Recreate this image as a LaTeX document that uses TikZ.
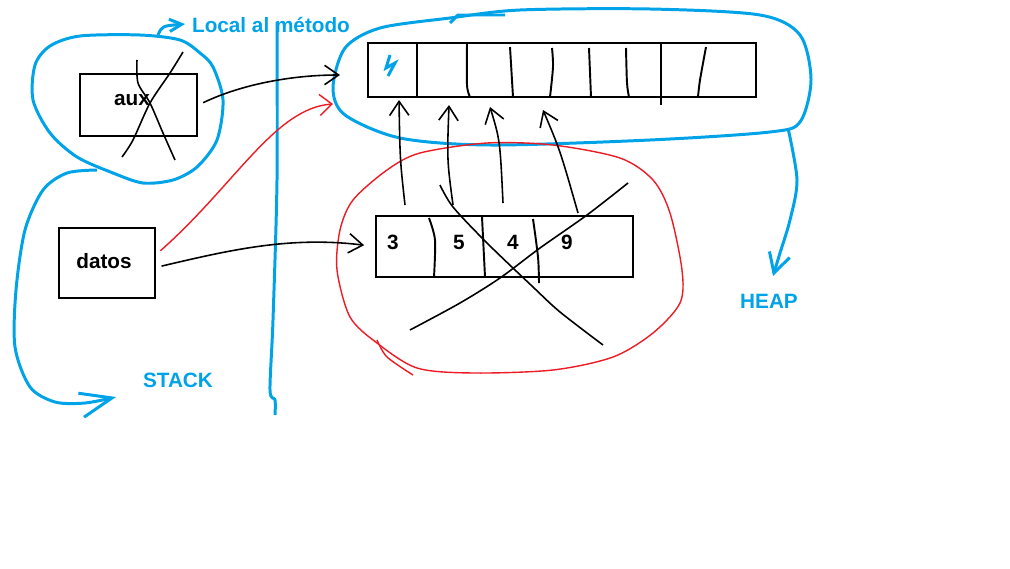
\documentclass[tikz,border=0pt]{standalone}
\usepackage{fontspec}
\setmainfont{Liberation Sans}
\usetikzlibrary{arrows.meta}
\definecolor{paintblue}{RGB}{0,162,232}
\definecolor{paintred}{RGB}{237,28,36}

\begin{document}
\begin{tikzpicture}[x=0.02cm,y=-0.02cm,
				>={Straight Barb[length=8pt,width=11pt]},
				every node/.style={font=\fontsize{11.8}{14}\selectfont\bfseries},
				box/.style={draw,line width=1.6pt,inner sep=0pt},
				ink/.style={line width=0.9pt},
				wall/.style={line width=1.1pt},
				ring/.style={paintblue,line width=1.7pt},
				redink/.style={paintred,line width=0.8pt},
				lbl/.style={text=paintblue,anchor=base}]
\path[ use as bounding box ] (0,0) rectangle (1010,568);

  % blue regions
  \draw[ring] plot[smooth cycle] coordinates {(200,53) (213,67) (223,100) (217,140)
	(197,167) (173,180) (143,183) (113,173) (77,157) (50,133) (33,100) (35,65)
	(50,46) (80,36) (140,35) (180,40)};
  \draw[ring] plot[smooth cycle] coordinates {(333,88) (345,48) (380,28) (450,18)
	(520,10) (650,9) (760,15) (800,35) (811,80) (800,122) (770,132) (650,140)
	(490,145) (400,138) (345,115)};
  \draw[ring] (450,23) -- (458,15) -- (505,15);
  \draw[ring] plot[smooth] coordinates {(277,22) (277,180) (273,320) (270,390)
	(275,400) (275,415)};
  \draw[ring,-{Straight Barb[length=18pt,width=14pt]}] plot[smooth] coordinates
	{(97,170) (67,173) (43,190) (25,230) (16,290) (15,347) (30,387) (55,402)
	(85,403) (116,397)};
  \draw[ring,-{Straight Barb[length=11pt,width=12pt]}] plot[smooth] coordinates
	{(788,128) (797,180) (790,220) (780,253) (773,276)};
  \draw[ring,-{Straight Barb[length=7pt,width=7pt]}] (158,35) .. controls (162,26) .. (185,24);

  % red region
  \draw[redink] plot[smooth cycle] coordinates {(487,143) (553,145) (620,158)
	(653,180) (670,213) (682,270) (680,303) (653,333) (613,357) (553,370)
	(473,373) (417,368) (377,343) (350,317) (337,270) (340,230) (353,200)
	(387,170) (420,153)};
  \draw[redink] plot[smooth] coordinates {(377,340) (387,357) (413,375)};

  % labels
  \node[lbl] (local) at (271,32) {Local al método};
  \node[lbl] (stack) at (178,387) {STACK};
  \node[lbl] (heaplbl) at (769,308) {HEAP};

  % stack boxes
  \node[box,minimum width=2.34cm,minimum height=1.24cm] (aux) at (138.5,105) {};
  \node[anchor=base] (auxtxt) at (132,105) {aux};
  \node[box,minimum width=1.92cm,minimum height=1.4cm] (datos) at (107,263) {};
  \node[anchor=base] (datostxt) at (104,268) {datos};

  % heap array
  \node[box,minimum width=7.76cm,minimum height=1.08cm] (heap) at (562,70) {};
  \draw[wall] (417,43) -- (417,97);
  \draw[wall] plot[smooth] coordinates {(467,43) (467,85) (470,97)};
  \draw[wall] plot[smooth] coordinates {(510,47) (513,97)};
  \draw[wall] plot[smooth] coordinates {(552,48) (553,67) (550,97)};
  \draw[wall] plot[smooth] coordinates {(589,48) (591,97)};
  \draw[wall] plot[smooth] coordinates {(626,48) (627,83) (629,97)};
  \draw[wall] (661,43) -- (661,105);
  \draw[wall] plot[smooth] coordinates {(706,47) (700,80) (698,97)};
  \draw[paintblue,line width=1.7pt] (390,55) -- (386,68) -- (395,63) -- (388,76);

  % old array
  \node[box,minimum width=5.14cm,minimum height=1.22cm] (arr) at (504.5,246.5) {};
  \draw[wall] plot[smooth] coordinates {(429,218) (435,240) (434,277)};
  \draw[wall] plot[smooth] coordinates {(482,217) (485,277)};
  \draw[wall] plot[smooth] coordinates {(533,219) (538,257) (539,283)};
  \node[anchor=base] (n3) at (393,249) {3};
  \node[anchor=base] (n5) at (459,249) {5};
  \node[anchor=base] (n4) at (513,249) {4};
  \node[anchor=base] (n9) at (567,249) {9};

  % crossed out
  \draw[ink] plot[smooth] coordinates {(137,60) (138,83) (150,103) (163,133) (175,160)};
  \draw[ink] plot[smooth] coordinates {(183,52) (170,73) (150,103) (133,140) (122,157)};
  \draw[ink] plot[smooth] coordinates {(440,185) (453,207) (487,243) (533,287)
	(560,312) (603,345)};
  \draw[ink] plot[smooth] coordinates {(628,183) (587,215) (540,248) (500,278)
	(460,303) (410,330)};

  % pointers
  \coordinate (heapin) at (340,75);
  \coordinate (heapred) at (333,104);
  \draw[ink,->,shorten <=3pt] (aux.east) .. controls (240,85) and (290,75) .. (heapin);
  \draw[redink,-{Straight Barb[length=7pt,width=12pt]},shorten <=3pt] (datos.10)
	.. controls (235,185) and (275,108) .. (heapred);
  \draw[ink,->,shorten <=3pt,shorten >=6pt] (datos.-5)
	.. controls (230,250) and (290,236) .. (arr.west);

  \coordinate (s1) at (405,205); \coordinate (t1) at (399,100);
  \coordinate (s2) at (453,205); \coordinate (t2) at (449,105);
  \coordinate (s3) at (503,203); \coordinate (t3) at (490,107);
  \coordinate (s4) at (578,213); \coordinate (t4) at (543,110);
  \draw[ink,->] (s1) .. controls (400,160) .. (t1);
  \draw[ink,->] (s2) .. controls (447,160) .. (t2);
  \draw[ink,->] (s3) .. controls (500,140) .. (t3);
  \draw[ink,->] (s4) .. controls (560,150) .. (t4);
\end{tikzpicture}
\end{document}
